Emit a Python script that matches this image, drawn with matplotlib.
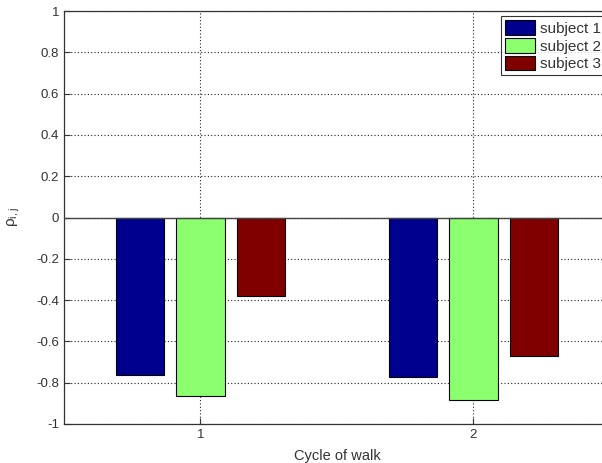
import matplotlib.pyplot as plt
import numpy as np

plt.rcParams['font.family'] = ['Liberation Sans', 'DejaVu Sans']

cycles = [1, 2]
subjects = ['subject 1', 'subject 2', 'subject 3']
rho_s1 = [-0.765, -0.772]
rho_s2 = [-0.865, -0.886]
rho_s3 = [-0.378, -0.670]
yticks = [-1, -0.8, -0.6, -0.4, -0.2, 0, 0.2, 0.4, 0.6, 0.8, 1]

colors = ['#00008f', '#8cff6e', '#800000']  # 类似 MATLAB jet 配色

fig = plt.figure(figsize=(6.02, 4.63), dpi=100)
# 坐标轴右侧超出画布，和原图一样被裁掉
ax = fig.add_axes([64 / 602, 39 / 463, 546 / 602, 413 / 463])

x = np.array(cycles, dtype=float)
width = 0.178
offsets = [-0.222, 0.0, 0.222]
for vals, off, col, lab in zip([rho_s1, rho_s2, rho_s3], offsets, colors, subjects):
    ax.bar(x + off, vals, width, color=col, edgecolor='black', linewidth=0.8,
           label=lab, zorder=3)

ax.axhline(0, color='#444444', linewidth=1.0, zorder=4)

ax.set_xlim(0.5, 2.5)
ax.set_ylim(-1, 1)
ax.set_xticks(cycles)
ax.set_yticks(yticks)
ax.set_yticklabels(['%g' % v for v in yticks])
ax.tick_params(direction='in', labelsize=9.5, length=4, width=0.8,
               colors='#333333', labelcolor='#333333')
ax.grid(True, linestyle=(0, (1, 2)), color='#222222', linewidth=0.8, zorder=0)
for sp in ax.spines.values():
    sp.set_linewidth(0.9)
    sp.set_color('#333333')

ax.set_xlabel('Cycle of walk', fontsize=10.5, labelpad=6, color='#333333')
ax.set_ylabel(r'ρ$_{\mathregular{i,j}}$', fontsize=11, labelpad=10,
              color='#333333')

leg = ax.legend(loc='upper right', fontsize=11, frameon=True, fancybox=False,
                edgecolor='black', borderpad=0.25, handlelength=2.0,
                handleheight=1.1, labelspacing=0.15, handletextpad=0.3,
                borderaxespad=0.35)
leg.get_frame().set_linewidth(0.8)
for t in leg.get_texts():
    t.set_color('#333333')

fig.savefig('out.png', dpi=100)
